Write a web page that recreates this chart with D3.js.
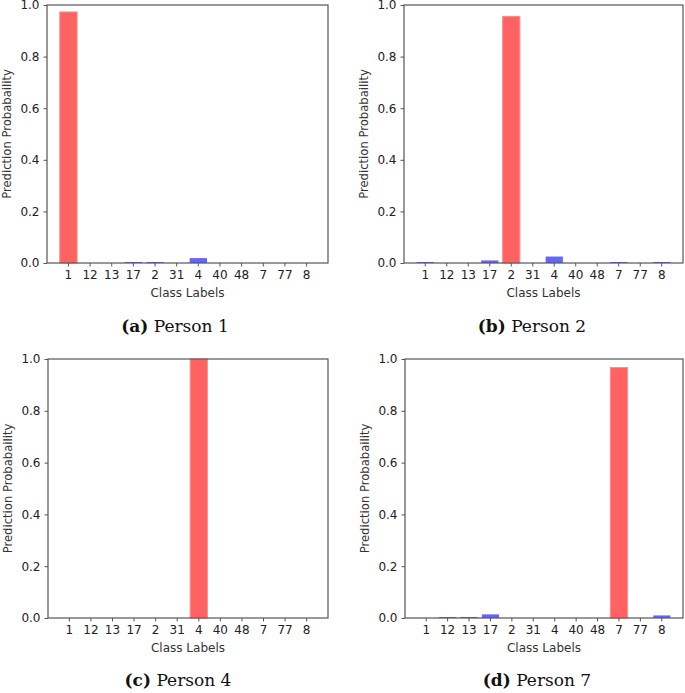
<!DOCTYPE html>
<html>
<head>
<meta charset="utf-8">
<script src="https://cdn.jsdelivr.net/npm/d3@7/dist/d3.min.js"></script>
<style>
  html, body { margin: 0; padding: 0; background: #fff; }
  svg { display: block; }
</style>
</head>
<body>
<svg id="chart" width="685" height="693"></svg>
<script>
// ---- data ----
const categories = ["1", "12", "13", "17", "2", "31", "4", "40", "48", "7", "77", "8"];
const person1 = [0.973, 0, 0, 0.004, 0.004, 0, 0.019, 0, 0, 0, 0, 0];
const person2 = [0.004, 0, 0, 0.010, 0.956, 0, 0.025, 0, 0, 0.004, 0, 0.004];
const person4 = [0, 0, 0, 0, 0, 0, 1.0, 0, 0, 0, 0, 0];
const person7 = [0, 0.004, 0.004, 0.014, 0, 0, 0, 0, 0, 0.967, 0, 0.010];
const yTicks = [0, 0.2, 0.4, 0.6, 0.8, 1.0];
const captionTags = ["(a)", "(b)", "(c)", "(d)"];
const captionNames = ["Person 1", "Person 2", "Person 4", "Person 7"];
const seriesList = [person1, person2, person4, person7];

const panels = [
  { left: 47, right: 328, top: 5, bottom: 263, capX: 175, capY: 332 },
  { left: 404, right: 683, top: 5, bottom: 263, capX: 532, capY: 332 },
  { left: 48, right: 328, top: 359, bottom: 618, capX: 178, capY: 686 },
  { left: 405, right: 683, top: 359, bottom: 618, capX: 537, capY: 686 }
];

const svg = d3.select("#chart");
const sansFont = "'DejaVu Sans', sans-serif";

panels.forEach((p, i) => {
  const values = seriesList[i];
  const maxIdx = values.indexOf(d3.max(values));

  const x = d3.scaleBand()
    .domain(categories)
    .range([p.left, p.right])
    .paddingInner(0.2)
    .paddingOuter(0.59);
  const y = d3.scaleLinear().domain([0, 1]).range([p.bottom, p.top]);

  const g = svg.append("g");

  // bars
  g.selectAll("rect.bar")
    .data(values)
    .enter().append("rect")
    .attr("class", "bar")
    .attr("x", (d, j) => x(categories[j]))
    .attr("width", x.bandwidth())
    .attr("y", d => y(d))
    .attr("height", d => y(0) - y(d))
    .attr("fill", (d, j) => j === maxIdx ? "#ff6262" : "#6464ff")
    .attr("stroke", (d, j) => j === maxIdx ? "#ff8a8a" : "none")
    .attr("stroke-width", 1);

  // frame
  g.append("rect")
    .attr("x", p.left).attr("y", p.top)
    .attr("width", p.right - p.left).attr("height", p.bottom - p.top)
    .attr("fill", "none").attr("stroke", "#555").attr("stroke-width", 1.2);

  // x axis
  const xa = g.append("g")
    .attr("transform", `translate(0,${p.bottom})`)
    .call(d3.axisBottom(x).tickSize(3.5).tickPadding(4));
  xa.select(".domain").remove();
  xa.selectAll("line").attr("stroke", "#555");
  xa.selectAll("text").attr("font-family", sansFont).attr("font-size", 12).attr("fill", "#222");

  // y axis
  const ya = g.append("g")
    .attr("transform", `translate(${p.left},0)`)
    .call(d3.axisLeft(y).tickValues(yTicks).tickFormat(d3.format(".1f")).tickSize(3.5).tickPadding(4));
  ya.select(".domain").remove();
  ya.selectAll("line").attr("stroke", "#555");
  ya.selectAll("text").attr("font-family", sansFont).attr("font-size", 12).attr("fill", "#222");

  // x label
  g.append("text")
    .attr("x", (p.left + p.right) / 2)
    .attr("y", p.bottom + 34)
    .attr("text-anchor", "middle")
    .attr("font-family", sansFont).attr("font-size", 12).attr("fill", "#333")
    .text("Class Labels");

  // y label
  g.append("text")
    .attr("transform", `translate(${p.left - 36},${(p.top + p.bottom) / 2}) rotate(-90)`)
    .attr("text-anchor", "middle")
    .attr("font-family", sansFont).attr("font-size", 11.6).attr("fill", "#333")
    .text("Prediction Probabaility");

  // caption
  const cap = g.append("text")
    .attr("x", p.capX).attr("y", p.capY)
    .attr("text-anchor", "middle")
    .attr("font-family", "'DejaVu Serif', 'Liberation Serif', serif")
    .attr("font-size", 17).attr("fill", "#111");
  cap.append("tspan").attr("font-weight", "bold").text(captionTags[i]);
  cap.append("tspan").text("\u00a0" + captionNames[i]);
});
</script>
</body>
</html>
